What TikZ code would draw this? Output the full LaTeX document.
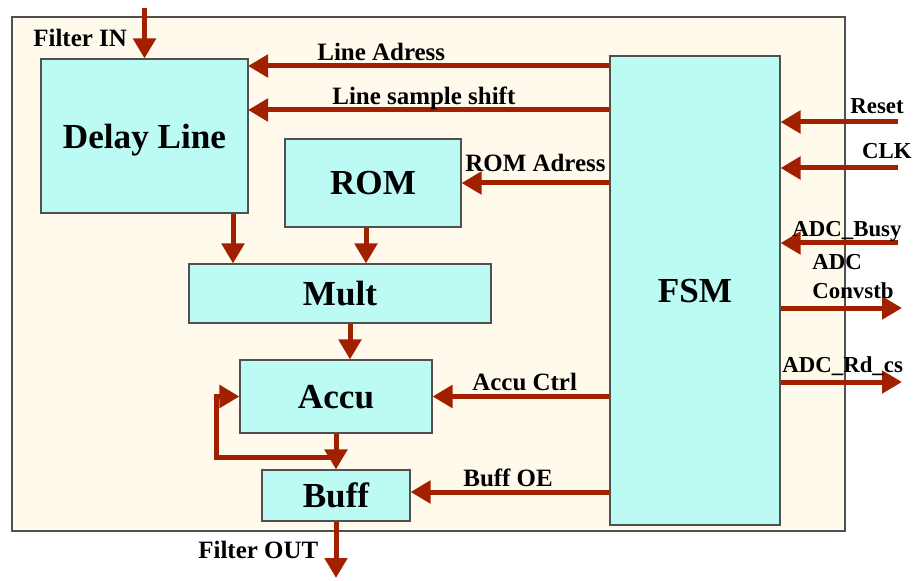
\documentclass[tikz,border=0pt]{standalone}
\usepackage{fontspec}
\setmainfont{Liberation Serif}
\usetikzlibrary{arrows.meta}
\definecolor{arrowred}{RGB}{160,32,0}
\definecolor{boxcyan}{RGB}{188,250,244}
\definecolor{bgcream}{RGB}{255,250,235}
\definecolor{edgegray}{RGB}{80,80,80}

\begin{document}
\begin{tikzpicture}[
    blk/.style={rectangle, draw=edgegray, line width=0.6pt, fill=boxcyan, inner sep=0pt, text depth=0pt, font=\fontsize{20}{24}\selectfont\bfseries, align=center},
    lbl/.style={inner sep=0pt, font=\fontsize{14.2}{17}\selectfont\bfseries},
    sig/.style={inner sep=0pt, font=\fontsize{13}{16.4}\selectfont\bfseries, align=left},
    arr/.style={-{Triangle[length=0.4cm, width=0.44cm]}, line width=0.1cm, arrowred},
]
\useasboundingbox (0,0) rectangle (18.28,11.6);

% 外框
\draw[edgegray, line width=0.6pt, fill=bgcream] (0.24,0.98) rectangle (16.9,11.26);

% 模块
\node[blk, minimum width=4.14cm, minimum height=3.08cm] (dl)   at (2.89,8.88) {Delay Line};
\node[blk, minimum width=3.52cm, minimum height=1.76cm] (rom)  at (7.46,7.94) {ROM};
\node[blk, minimum width=6.04cm, minimum height=1.18cm] (mult) at (6.80,5.73) {Mult};
\node[blk, minimum width=3.84cm, minimum height=1.46cm] (accu) at (6.72,3.67) {Accu};
\node[blk, minimum width=2.96cm, minimum height=1.02cm] (buff) at (6.72,1.69) {Buff};
\node[blk, minimum width=3.40cm, minimum height=9.38cm] (fsm)  at (13.90,5.79) {FSM};

% 外部输入输出
\node[lbl, anchor=base west] (finl)  at (0.66,10.66) {Filter IN};
\node[lbl, anchor=base west] (foutl) at (3.96,0.44)  {Filter OUT};
\coordinate (fin)  at (2.89,11.44);
\coordinate (fout) at (6.72,0.04);
\draw[arr] (fin) -- (dl.north);
\draw[arr] (buff.south) -- (fout);

% 数据通路
\draw[arr] ([xshift=1.77cm]dl.south) -- ([xshift=1.77cm]dl.south |- mult.north);
\draw[arr] ([xshift=-0.14cm]rom.south) -- ([xshift=-0.14cm]rom.south |- mult.north);
\draw[arr] ([xshift=0.2cm]mult.south) -- ([xshift=0.2cm]mult.south |- accu.north);
\draw[arr] (accu.south) -- (buff.north);

% 累加反馈
\coordinate (fbk) at (6.72,2.46);
\draw[arr] (fbk) -| ([xshift=-0.46cm]accu.west) -- (accu.west);

% FSM 控制信号
\coordinate (la)  at (4.96,10.28);
\coordinate (lss) at (4.96,9.40);
\draw[arr] (la -| fsm.west) -- (la);
\draw[arr] (lss -| fsm.west) -- (lss);
\draw[arr] (rom.east -| fsm.west) -- (rom.east);
\draw[arr] (accu.east -| fsm.west) -- (accu.east);
\draw[arr] ([yshift=0.07cm]buff.east -| fsm.west) -- ([yshift=0.07cm]buff.east);

\node[lbl, anchor=base west] (lal)  at (6.34,10.38) {Line Adress};
\node[lbl, anchor=base west] (lssl) at (6.64,9.50)  {Line sample shift};
\node[lbl, anchor=base west] (roml) at (9.30,8.16)  {ROM Adress};
\node[lbl, anchor=base west] (accl) at (9.44,3.80)  {Accu Ctrl};
\node[lbl, anchor=base west] (bufl) at (9.26,1.88)  {Buff OE};

% 右侧外部信号
\coordinate (rst)  at (17.95,9.16);
\coordinate (clk)  at (17.95,8.24);
\coordinate (busy) at (17.95,6.74);
\coordinate (cnv)  at (18.04,5.44);
\coordinate (rdcs) at (18.04,3.96);
\draw[arr] (rst) -- (rst -| fsm.east);
\draw[arr] (clk) -- (clk -| fsm.east);
\draw[arr] (busy) -- (busy -| fsm.east);
\draw[arr] (cnv -| fsm.east) -- (cnv);
\draw[arr] (rdcs -| fsm.east) -- (rdcs);

\node[sig, anchor=base east] (rstl)  at (18.08,9.32) {Reset};
\node[sig, anchor=base east] (clkl)  at (18.24,8.42) {CLK};
\node[sig, anchor=base west] (busyl) at (15.84,6.86) {ADC\_Busy};
\node[sig, anchor=base west] (cnvl)  at (16.24,5.64) {ADC\\Convstb};
\node[sig, anchor=base west] (rdcsl) at (15.64,4.16) {ADC\_Rd\_cs};

\end{tikzpicture}
\end{document}
